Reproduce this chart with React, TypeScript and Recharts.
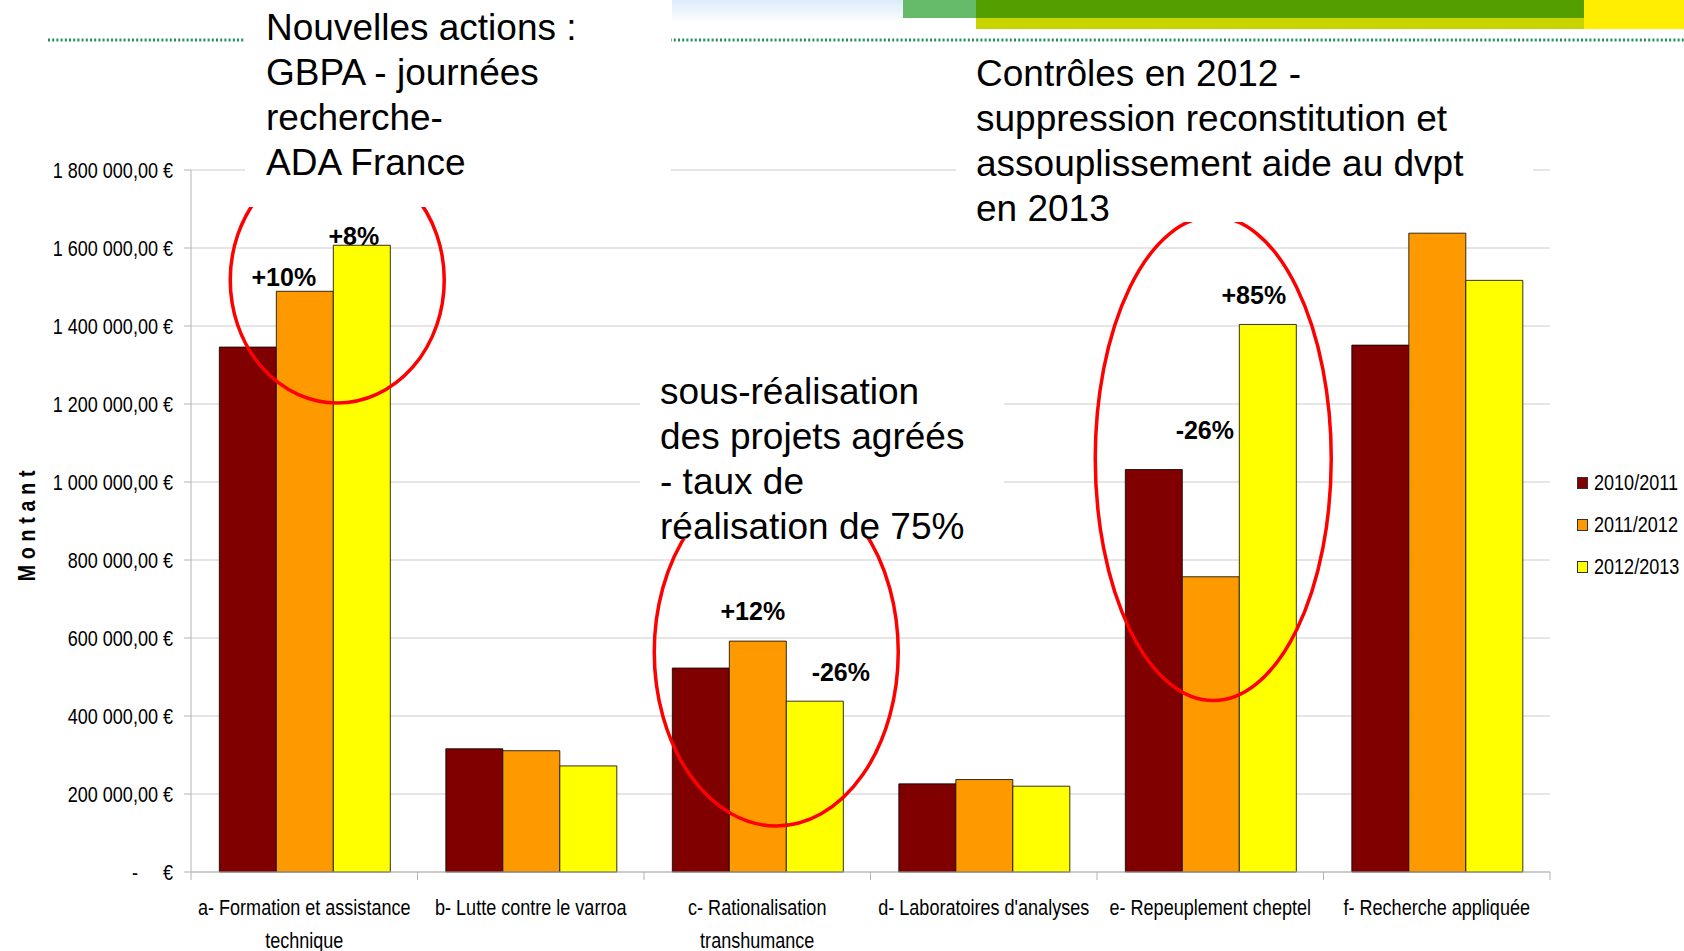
import React from 'react'
import {
  BarChart,
  Bar,
  XAxis,
  YAxis,
  CartesianGrid,
  LabelList,
  Legend,
  ReferenceDot,
} from 'recharts'

// données
const categories = [
  'a- Formation et assistance\ntechnique',
  'b- Lutte contre le varroa',
  'c- Rationalisation\ntranshumance',
  "d- Laboratoires d'analyses",
  'e- Repeuplement cheptel',
  'f- Recherche appliquée',
]
const seriesNames = ['2010/2011', '2011/2012', '2012/2013']
const values2010 = [1346000, 316000, 523000, 226000, 1032000, 1351000]
const values2011 = [1489000, 311000, 592000, 237000, 757000, 1638000]
const values2012 = [1607000, 272000, 438000, 220000, 1404000, 1517000]
const change2011 = ['+10%', '', '+12%', '', '-26%', '']
const change2012 = ['+8%', '', '-26%', '', '+85%', '']
const yTicks = [0, 200000, 400000, 600000, 800000, 1000000, 1200000, 1400000, 1600000, 1800000]

const colors = ['#800000', '#FF9900', '#FFFF00']

// mise en page
const W = 1684
const H = 951
const PLOT_LEFT = 191
const PLOT_RIGHT = 1550
const PLOT_TOP = 170
const PLOT_BOTTOM = 872
const BAND = (PLOT_RIGHT - PLOT_LEFT) / categories.length
const ARIAL = "'Liberation Sans', Arial, sans-serif"
// pas d'Arial Narrow installée : on comprime Liberation Sans
const NARROW_SCALE = 0.82

// décalage des étiquettes (centre du texte par rapport au haut de la barre)
const offsets2011 = [[-21, -14], [0, 0], [-5, -30], [0, 0], [-6, -147], [0, 0]]
const offsets2012 = [[-8, -9], [0, 0], [26, -29], [0, 0], [-14, -29], [0, 0]]

// ellipses rouges (centre en coordonnées de données + décalage px)
const ellipses = [
  { cat: 0, y: 1518000, dx: 33, rx: 107, ry: 123 },
  { cat: 2, y: 564000, dx: 19, rx: 122, ry: 174 },
  { cat: 4, y: 1060000, dx: 3, rx: 118, ry: 242 },
]

const data = categories.map((name, i) => ({
  name,
  v2010: values2010[i],
  v2011: values2011[i],
  v2012: values2012[i],
  c2011: change2011[i],
  c2012: change2012[i],
}))

function fmtEuro(v: number) {
  const s = Math.round(v).toString().replace(/\B(?=(\d{3})+(?!\d))/g, ' ')
  return `${s},00 €`
}

function NarrowText({ x, y, anchor = 'start', size = 22, children }: any) {
  return (
    <text
      transform={`translate(${x} ${y}) scale(${NARROW_SCALE} 1)`}
      textAnchor={anchor}
      fontFamily={ARIAL}
      fontSize={size}
      fill="#000"
    >
      {children}
    </text>
  )
}

function YTick(props: any) {
  const { y, payload } = props
  const right = 173
  if (payload.value === 0) {
    return (
      <g>
        <NarrowText x={right - 38} y={y + 8} anchor="middle">-</NarrowText>
        <NarrowText x={right} y={y + 8} anchor="end">€</NarrowText>
      </g>
    )
  }
  return (
    <NarrowText x={right} y={y + 8} anchor="end">
      {fmtEuro(payload.value)}
    </NarrowText>
  )
}

function XTick(props: any) {
  const { x, payload, index } = props
  const lines = String(payload.value).split('\n')
  const left = x - BAND / 2
  return (
    <g>
      <line x1={left} x2={left} y1={PLOT_BOTTOM} y2={PLOT_BOTTOM + 8} stroke="#b3b3b3" />
      {index === categories.length - 1 && (
        <line x1={left + BAND} x2={left + BAND} y1={PLOT_BOTTOM} y2={PLOT_BOTTOM + 8} stroke="#b3b3b3" />
      )}
      {lines.map((l, i) => (
        <NarrowText key={i} x={x} y={915 + i * 32.5} anchor="middle">
          {l}
        </NarrowText>
      ))}
    </g>
  )
}

function changeLabel(offsets: number[][]) {
  return (props: any) => {
    const { x, y, width, value, index } = props
    if (!value) return null
    const [dx, dy] = offsets[index]
    return (
      <text
        x={x + width / 2 + dx}
        y={y + dy + 9}
        textAnchor="middle"
        fontFamily={ARIAL}
        fontWeight="bold"
        fontSize={25}
        fill="#000"
      >
        {value}
      </text>
    )
  }
}

function renderLegend() {
  return (
    <div style={{ fontFamily: ARIAL, fontSize: 22, color: '#000' }}>
      {seriesNames.map((n, i) => (
        <div key={n} style={{ display: 'flex', alignItems: 'center', height: 42, whiteSpace: 'nowrap' }}>
          <span
            style={{
              display: 'inline-block',
              flexShrink: 0,
              width: 9,
              height: 10,
              background: colors[i],
              border: '1px solid #333',
              marginRight: 6,
            }}
          />
          <span style={{ display: 'inline-block', transform: `scaleX(${NARROW_SCALE})`, transformOrigin: 'left center' }}>
            {n}
          </span>
        </div>
      ))}
    </div>
  )
}

const noteStyle: React.CSSProperties = {
  position: 'absolute',
  background: '#fff',
  fontFamily: ARIAL,
  fontSize: 37,
  lineHeight: '45px',
  color: '#000',
  whiteSpace: 'pre',
  boxSizing: 'border-box',
}

export default function App() {
  return (
    <div style={{ position: 'absolute', left: 0, top: 0, width: W, height: H, background: '#fff', overflow: 'hidden' }}>
      <BarChart
        width={W}
        height={H}
        data={data}
        margin={{ top: PLOT_TOP, right: W - PLOT_RIGHT, bottom: 0, left: 0 }}
        barCategoryGap="12.5%"
        barGap={0}
      >
        <CartesianGrid vertical={false} stroke="#cccccc" />
        <XAxis
          dataKey="name"
          height={H - PLOT_BOTTOM}
          axisLine={{ stroke: '#b3b3b3' }}
          tickLine={false}
          tick={<XTick />}
          interval={0}
        />
        <YAxis
          width={PLOT_LEFT}
          domain={[0, 1800000]}
          ticks={yTicks}
          axisLine={{ stroke: '#b3b3b3' }}
          tickLine={{ stroke: '#b3b3b3' }}
          tickSize={7}
          tick={<YTick />}
          label={{
            value: 'Montant',
            position: 'insideLeft',
            content: () => (
              <text
                transform={`translate(35 523) rotate(-90) scale(${NARROW_SCALE} 1)`}
                textAnchor="middle"
                fontFamily={ARIAL}
                fontWeight="bold"
                fontSize={24}
                letterSpacing={7}
                fill="#000"
              >
                Montant
              </text>
            ),
          }}
        />
        <YAxis
          yAxisId="border"
          orientation="right"
          width={0}
          tick={false}
          tickLine={false}
          axisLine={{ stroke: '#b3b3b3' }}
        />
        <Legend
          content={renderLegend}
          layout="horizontal"
          verticalAlign="middle"
          align="center"
          wrapperStyle={{ left: 1577, top: 462, width: 110 }}
        />
        <Bar dataKey="v2010" name={seriesNames[0]} fill={colors[0]} stroke="#000" strokeWidth={0.8} isAnimationActive={false} />
        <Bar dataKey="v2011" name={seriesNames[1]} fill={colors[1]} stroke="#000" strokeWidth={0.8} isAnimationActive={false}>
          <LabelList dataKey="c2011" content={changeLabel(offsets2011)} />
        </Bar>
        <Bar dataKey="v2012" name={seriesNames[2]} fill={colors[2]} stroke="#000" strokeWidth={0.8} isAnimationActive={false}>
          <LabelList dataKey="c2012" content={changeLabel(offsets2012)} />
        </Bar>
        {ellipses.map((e, i) => (
          <ReferenceDot
            key={i}
            x={categories[e.cat]}
            y={e.y}
            r={1}
            ifOverflow="visible"
            shape={(p: any) => (
              <ellipse
                cx={p.cx + e.dx}
                cy={p.cy}
                rx={e.rx}
                ry={e.ry}
                fill="none"
                stroke="#ff0000"
                strokeWidth={3.5}
              />
            )}
          />
        ))}
      </BarChart>

      {/* bandeau du haut */}
      <svg width={W} height={50} style={{ position: 'absolute', left: 0, top: 0 }}>
        <defs>
          <linearGradient id="sky" x1="0" y1="0" x2="0" y2="1">
            <stop offset="0%" stopColor="#dcecfb" />
            <stop offset="100%" stopColor="#ffffff" />
          </linearGradient>
        </defs>
        <rect x={672} y={0} width={231} height={24} fill="url(#sky)" />
        <rect x={903} y={0} width={73} height={18} fill="#66bb6a" />
        <rect x={976} y={0} width={608} height={18} fill="#559e00" />
        <rect x={976} y={18} width={608} height={11} fill="#c8d400" />
        <rect x={1584} y={0} width={100} height={29} fill="#ffee00" />
        <line x1={48} x2={W} y1={40} y2={40} stroke="#23925e" strokeWidth={2.8} strokeDasharray="2 2.2" />
      </svg>

      {/* encadrés de commentaire */}
      <div style={{ ...noteStyle, left: 245, top: 0, width: 426, height: 207, paddingLeft: 21, paddingTop: 5 }}>
        {'Nouvelles actions :\nGBPA - journées\nrecherche-\nADA France'}
      </div>
      <div style={{ ...noteStyle, left: 956, top: 48, width: 577, height: 174, paddingLeft: 20, paddingTop: 3 }}>
        {'Contrôles en 2012 -\nsuppression reconstitution et\nassouplissement aide au dvpt\nen 2013'}
      </div>
      <div style={{ ...noteStyle, left: 640, top: 365, width: 364, height: 174, paddingLeft: 20, paddingTop: 4 }}>
        {'sous-réalisation\ndes projets agréés\n- taux de\nréalisation de 75%'}
      </div>
    </div>
  )
}
